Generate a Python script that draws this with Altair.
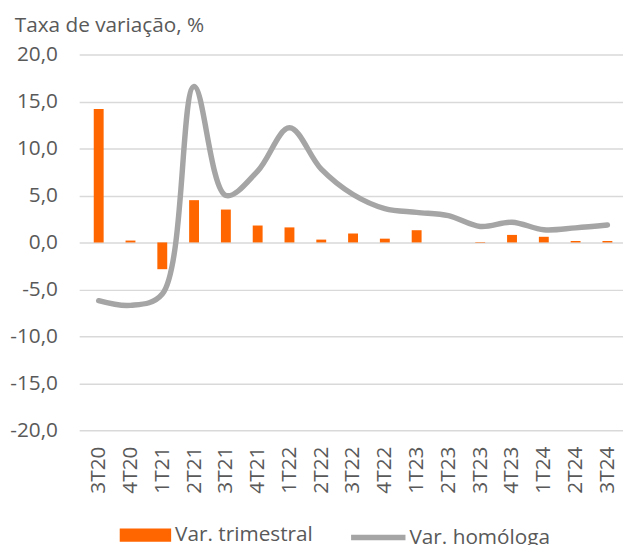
import altair as alt
import pandas as pd

quarters = ["3T20", "4T20", "1T21", "2T21", "3T21", "4T21", "1T22", "2T22", "3T22",
            "4T22", "1T23", "2T23", "3T23", "4T23", "1T24", "2T24", "3T24"]
trimestral = [14.2, 0.2, -2.85, 4.5, 3.5, 1.8, 1.6, 0.3, 0.95, 0.4, 1.3, 0.0, -0.05,
              0.8, 0.6, 0.15, 0.15]
homologa = [-6.2, -6.7, -5.5, 16.6, 5.0, 7.6, 12.2, 7.8, 5.1, 3.6, 3.2, 2.85, 1.7,
            2.15, 1.35, 1.55, 1.85]
y_ticks = [-20, -15, -10, -5, 0, 5, 10, 15, 20]

df = pd.DataFrame({
    "idx": list(range(len(quarters))),
    "q": quarters,
    "trim": trimestral,
    "hom": homologa,
    "s1": "Var. trimestral",
    "s2": "Var. homóloga",
})

FONT = "Open Sans"
TXT = "#595959"
label_arr = "[" + ",".join(f"'{q}'" for q in quarters) + "]"

x = alt.X(
    "idx:Q",
    scale=alt.Scale(domain=[-0.458, 16.335], nice=False, zero=False),
    axis=alt.Axis(
        values=list(range(len(quarters))),
        labelExpr=f"{label_arr}[datum.value]",
        labelAngle=-90, labelAlign="right", labelBaseline="middle",
        labelFont=FONT, labelFontSize=21, labelColor=TXT, labelPadding=16,
        ticks=False, domain=False, grid=False, title=None,
    ),
)

y_axis = alt.Axis(
    values=y_ticks,
    labelExpr="replace(replace(format(datum.value, '.1f'), '.', ','), '\u2212', '-')",
    labelFont=FONT, labelFontSize=21, labelColor=TXT, labelPadding=22,
    ticks=False, domain=False, grid=True, gridColor="#D9D9D9", gridWidth=1.5,
    title=None,
)

bars = alt.Chart(df).mark_bar(size=10).encode(
    x=x,
    y=alt.Y("trim:Q", scale=alt.Scale(domain=[-20, 20], nice=False), axis=y_axis),
    color=alt.Color(
        "s1:N",
        scale=alt.Scale(range=["#FF6600"]),
        legend=alt.Legend(
            title=None, orient="none", legendX=41, legendY=460,
            symbolType="M-1,-0.258H1V0.258H-1Z", symbolSize=2704,
            symbolStrokeWidth=0, symbolFillColor="#FF6600",
            labelFont=FONT, labelFontSize=21, labelColor=TXT, labelOffset=4,
        ),
    ),
)

line = alt.Chart(df).mark_line(
    strokeWidth=5.5, interpolate="catmull-rom", strokeCap="round"
).encode(
    x=x,
    y=alt.Y("hom:Q", scale=alt.Scale(domain=[-20, 20], nice=False)),
    stroke=alt.Stroke(
        "s2:N",
        scale=alt.Scale(range=["#A5A5A5"]),
        legend=alt.Legend(
            title=None, orient="none", legendX=272, legendY=458,
            symbolType="stroke", symbolSize=3025, symbolStrokeWidth=5.5,
            symbolStrokeColor="#A5A5A5",
            labelFont=FONT, labelFontSize=21, labelColor=TXT, labelOffset=1,
        ),
    ),
)

chart = alt.layer(bars, line).resolve_scale(
    color="independent", stroke="independent"
).properties(
    width=550,
    height=380,
    autosize=alt.AutoSizeParams(type="none"),
    padding={"left": 72, "top": 44, "right": 0, "bottom": 120},
    title=alt.TitleParams(
        "Taxa de variação, %", anchor="start", dx=5, dy=19, offset=10,
        baseline="alphabetic", font=FONT, fontSize=21, fontWeight="normal",
        color=TXT,
    ),
).configure_view(stroke=None)

chart.save("out.html", embed_options={"renderer": "svg", "actions": False})
